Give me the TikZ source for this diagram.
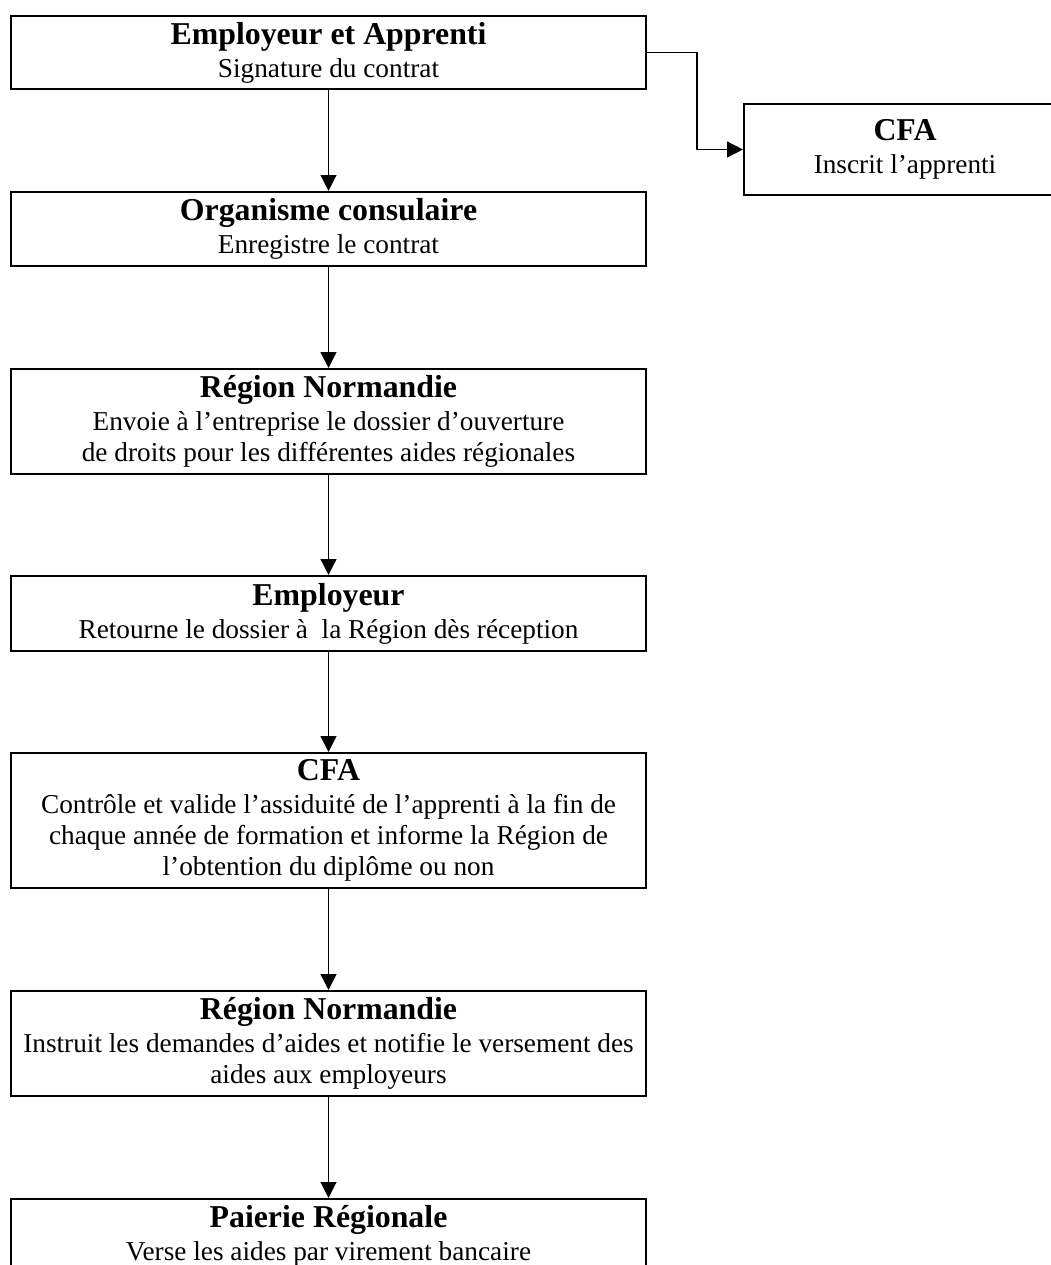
\documentclass[tikz,border=0pt]{standalone}
\usepackage{fontspec}
\setmainfont{Liberation Serif}
\usetikzlibrary{arrows.meta}
\newcommand{\titre}[1]{{\fontsize{14}{16}\selectfont\bfseries #1}}

\begin{document}
\begin{tikzpicture}[x=0.44pt,y=-0.44pt,
  boite/.style={draw,line width=0.9pt,minimum width=279.4pt,align=center,inner sep=0pt,font=\fontsize{12}{13.8}\selectfont},
  fleche/.style={line width=0.6pt,-{Triangle[length=7pt,width=7pt]}}]
\useasboundingbox (0,0) rectangle (1051,1265);
\clip (0,0) rectangle (1051,1265);

\node[boite,minimum height=32.1pt] (ea) at (328.5,52.5) {\titre{Employeur et Apprenti}\\[0.7pt]Signature du contrat};
\node[boite,minimum height=40pt,minimum width=141.7pt] (cfa) at (905,149.5) {\titre{CFA}\\[0.7pt]Inscrit l’apprenti};
\node[boite,minimum height=32.6pt] (org) at (328.5,229) {\titre{Organisme consulaire}\\[0.7pt]Enregistre le contrat};
\node[boite,minimum height=46.2pt] (reg) at (328.5,421.5) {\titre{Région Normandie}\\[0.7pt]Envoie à l’entreprise le dossier d’ouverture\\de droits pour les différentes aides régionales};
\node[boite,minimum height=33pt] (emp) at (328.5,613.5) {\titre{Employeur}\\[0.7pt]Retourne le dossier à\ \ la Région dès réception};
\node[boite,minimum height=59.4pt] (cfb) at (328.5,820.5) {\titre{CFA}\\[0.7pt]Contrôle et valide l’assiduité de l’apprenti à la fin de\\chaque année de formation et informe la Région de\\l’obtention du diplôme ou non};
\node[boite,minimum height=46.2pt] (reh) at (328.5,1043.5) {\titre{Région Normandie}\\[0.7pt]Instruit les demandes d’aides et notifie le versement des\\aides aux employeurs};
\node[boite,minimum height=32.6pt] (pai) at (328.5,1236) {\titre{Paierie Régionale}\\[0.7pt]Verse les aides par virement bancaire};

\draw[fleche] (ea) -- (org);
\draw[fleche] (ea.east) -- ++(50,0) |- (cfa.west);
\draw[fleche] (org) -- (reg);
\draw[fleche] (reg) -- (emp);
\draw[fleche] (emp) -- (cfb);
\draw[fleche] (cfb) -- (reh);
\draw[fleche] (reh) -- (pai);
\end{tikzpicture}
\end{document}
